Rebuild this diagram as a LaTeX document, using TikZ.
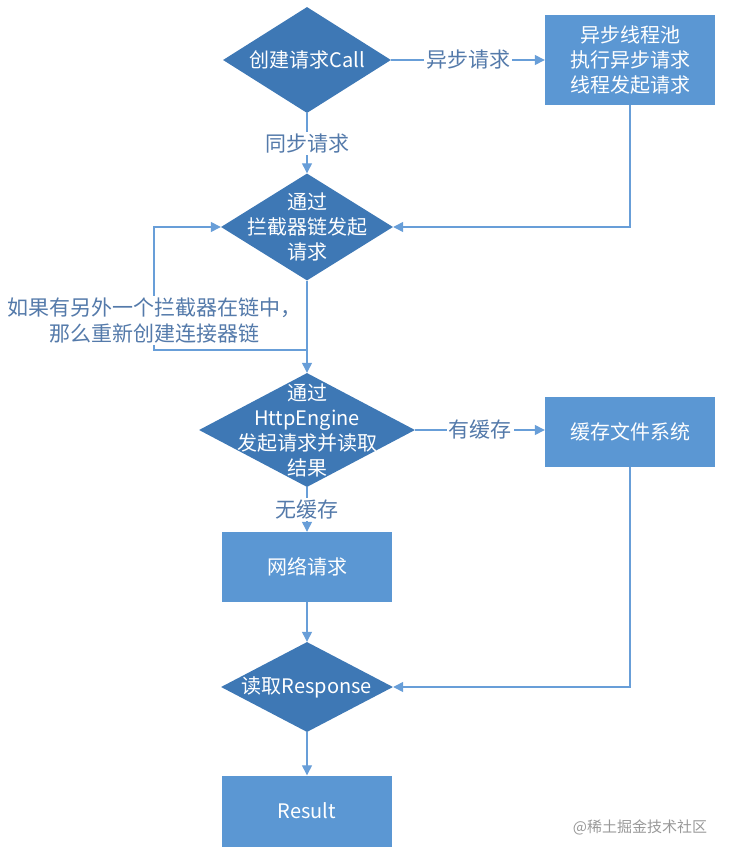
\documentclass[tikz,border=0pt]{standalone}
\usepackage{fontspec}
\usepackage{tikz}
\usetikzlibrary{arrows.meta,shapes.geometric,positioning}
\newfontfamily\cjk{Noto Sans CJK SC}
\definecolor{diamondblue}{RGB}{62,120,181}
\definecolor{boxblue}{RGB}{91,151,211}
\definecolor{flowblue}{RGB}{104,158,216}
\definecolor{notegray}{RGB}{84,122,170}

\begin{document}
\begin{tikzpicture}[
x=1pt, y=-1pt,
font=\cjk\fontsize{20}{25}\selectfont,
decision/.style={diamond, fill=diamondblue, inner sep=0pt},
process/.style={rectangle, fill=boxblue, text=white, align=center, inner sep=0pt, minimum width=170pt},
inside/.style={text=white, align=center},
flow/.style={-{Triangle[width=10pt,length=10pt]}, draw=flowblue, line width=1.3pt},
note/.style={fill=white, text=notegray, inner sep=2pt, align=center, font=\cjk\fontsize{21}{26}\selectfont}]
    % Bounding box
    \useasboundingbox (0,0) rectangle (729,858);

    % Main column
    \node[decision, minimum width=168pt, minimum height=106pt,
        label={[inside]center:创建请求Call}] (call) at (307,60) {};
    \node[decision, minimum width=172pt, minimum height=107pt,
        label={[inside]center:通过\\拦截器链发起\\请求}] (intercept) at (307,227) {};
    \node[decision, minimum width=216pt, minimum height=114pt,
        label={[inside]center:通过\\HttpEngine\\发起请求并读取\\结果}] (engine) at (307,430) {};
    \node[process, minimum height=70pt] (network) at (307,567) {网络请求};
    \node[decision, minimum width=172pt, minimum height=90pt,
        label={[inside]center:读取Response}] (response) at (307,687) {};
    \node[process, minimum height=71pt] (result) at (307,811) {Result};

    % Right column
    \node[process, minimum height=90pt] (async) at (630,60) {异步线程池\\执行异步请求\\线程发起请求};
    \node[process, minimum height=70pt] (cache) at (630,432) {缓存文件系统};

    % Connectors
    \draw[flow] (call) -- node[note]{异步请求} (async);
    \draw[flow] (call) -- node[note]{同步请求} (intercept);
    \draw[flow] (async.south) |- (intercept.east);
    \draw[flow] (intercept) -- (engine);
    \coordinate (split) at (307,350);
    \draw[flow] (split) -- (154,350)
        -- node[note, pos=0.24]{如果有另外一个拦截器在链中，\\那么重新创建连接器链} (154,227)
        -- (intercept.west);
    \draw[flow] (engine) -- node[note]{有缓存} (cache.west |- engine);
    \draw[flow] (engine) -- node[note]{无缓存} (network);
    \draw[flow] (network) -- (response);
    \draw[flow] (cache.south) |- (response.east);
    \draw[flow] (response) -- (result);

    % Watermark
    \node[text=gray!80, font=\cjk\fontsize{15}{18}\selectfont] (mark) at (640,827) {@稀土掘金技术社区};
\end{tikzpicture}
\end{document}
